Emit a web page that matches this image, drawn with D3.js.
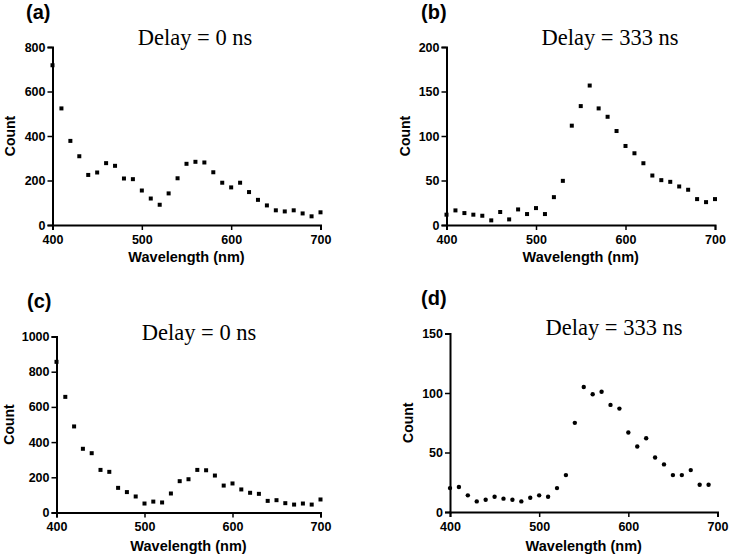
<!DOCTYPE html>
<html>
<head>
<meta charset="utf-8">
<script src="https://cdn.jsdelivr.net/npm/d3@7"></script>
<style>
body { margin: 0; background: #fff; }
svg { display: block; }
.tick text { font-family: "Liberation Sans", Arial, sans-serif; font-weight: bold; font-size: 12.5px; fill: #000; }
</style>
</head>
<body>
<svg width="730" height="557"></svg>
<script>
var wavelength = [400, 410, 420, 430, 440, 450, 460, 470, 480, 490, 500, 510, 520, 530, 540, 550, 560, 570, 580, 590, 600, 610, 620, 630, 640, 650, 660, 670, 680, 690, 700];
var countA = [718, 524, 378, 309, 225, 236, 278, 266, 209, 206, 155, 119, 91, 142, 210, 275, 284, 281, 237, 190, 169, 190, 148, 113, 88, 66, 61, 66, 52, 39, 57];
var countB = [11.6, 16.4, 13.4, 11.6, 10.4, 5.2, 14.6, 6.3, 17.5, 12.3, 19, 12.3, 31.3, 49.6, 111.6, 133.6, 156.7, 131, 121.6, 105.6, 88.8, 80.6, 69.4, 55.6, 50.4, 48.5, 43.3, 39.6, 29.1, 25.7, 29.1];
var countC = [856, 657, 489, 362, 337, 242, 231, 140, 116, 91, 51, 62, 57, 108, 178, 189, 242, 240, 210, 153, 165, 131, 112, 106, 66, 70, 53, 45, 51, 45, 74];
var countD = [20.1, 21, 14, 8.9, 10.3, 12.8, 11.2, 10.3, 8.9, 12, 14, 12.8, 20.1, 31, 74.9, 105, 98.9, 101, 90, 86.9, 66.8, 55, 62, 45.8, 40, 31, 31, 35.2, 22.9, 22.9];

var xTicks = [400, 500, 600, 700];
var yTicksA = [0, 200, 400, 600, 800];
var yTicksB = [0, 50, 100, 150, 200];
var yTicksC = [0, 200, 400, 600, 800, 1000];
var yTicksD = [0, 50, 100, 150];

var panelLabels = ["(a)", "(b)", "(c)", "(d)"];
var titles = ["Delay = 0 ns", "Delay = 333 ns", "Delay = 0 ns", "Delay = 333 ns"];

var svg = d3.select("svg");

// layout of each panel (pixel boxes)
var panels = [
  {data: countA, yTicks: yTicksA, marker: "square", left: 52.5, right: 320.5, top: 47, bottom: 225, labelX: 26, labelY: 19, titleX: 195, titleY: 45, countX: 10, wlY: 262},
  {data: countB, yTicks: yTicksB, marker: "square", left: 446.5, right: 715, top: 47, bottom: 225, labelX: 421, labelY: 19, titleX: 610, titleY: 45, countX: 405, wlY: 262},
  {data: countC, yTicks: yTicksC, marker: "square", left: 56.5, right: 320.5, top: 336.5, bottom: 512.5, labelX: 27, labelY: 308, titleX: 199, titleY: 340, countX: 9, wlY: 551},
  {data: countD, yTicks: yTicksD, marker: "circle", left: 450, right: 717.5, top: 333.5, bottom: 512, labelX: 421, labelY: 305, titleX: 614, titleY: 335, countX: 408, wlY: 551}
];

panels.forEach(function(p, i) {
  var x = d3.scaleLinear().domain([400, 700]).range([p.left, p.right]);
  var yMax = p.yTicks[p.yTicks.length - 1];
  var y = d3.scaleLinear().domain([0, yMax]).range([p.bottom, p.top]);

  var g = svg.append("g");

  var xAxis = d3.axisBottom(x).tickValues(xTicks).tickFormat(d3.format("d")).tickSizeOuter(0).tickSize(5).tickPadding(5);
  var yAxis = d3.axisLeft(y).tickValues(p.yTicks).tickFormat(d3.format("d")).tickSizeOuter(0).tickSize(5).tickPadding(2);

  var gx = g.append("g").attr("transform", "translate(0," + p.bottom + ")").call(xAxis);
  var gy = g.append("g").attr("transform", "translate(" + p.left + ",0)").call(yAxis);
  [gx, gy].forEach(function(a) {
    a.select(".domain").attr("stroke", "#000").attr("stroke-width", 2);
    a.selectAll(".tick line").attr("stroke", "#000").attr("stroke-width", 1.5);
  });

  // points
  var pts = wavelength.slice(0, p.data.length).map(function(w, k) { return [w, p.data[k]]; });
  if (p.marker === "square") {
    g.selectAll("rect.pt").data(pts).enter().append("rect")
      .attr("class", "pt")
      .attr("x", function(d) { return x(d[0]) - 2; })
      .attr("y", function(d) { return y(d[1]) - 2; })
      .attr("width", 4).attr("height", 4)
      .attr("fill", "#000");
  } else {
    g.selectAll("circle.pt").data(pts).enter().append("circle")
      .attr("class", "pt")
      .attr("cx", function(d) { return x(d[0]); })
      .attr("cy", function(d) { return y(d[1]); })
      .attr("r", 2.2)
      .attr("fill", "#000");
  }

  // texts
  g.append("text")
    .attr("x", p.labelX).attr("y", p.labelY)
    .style("font-family", "'Liberation Sans', Arial, sans-serif")
    .style("font-weight", "bold").style("font-size", "20px")
    .text(panelLabels[i]);

  g.append("text")
    .attr("x", p.titleX).attr("y", p.titleY)
    .style("text-anchor", "middle")
    .style("font-family", "'Liberation Serif', 'Times New Roman', serif")
    .style("font-size", "22.5px")
    .text(titles[i]);

  g.append("text")
    .attr("transform", "translate(" + p.countX + "," + ((p.top + p.bottom) / 2) + ") rotate(-90)")
    .attr("dy", "0.35em")
    .style("text-anchor", "middle")
    .style("font-family", "'Liberation Sans', Arial, sans-serif")
    .style("font-weight", "bold").style("font-size", "14px")
    .text("Count");

  g.append("text")
    .attr("x", (p.left + p.right) / 2).attr("y", p.wlY)
    .style("text-anchor", "middle")
    .style("font-family", "'Liberation Sans', Arial, sans-serif")
    .style("font-weight", "bold").style("font-size", "14.5px")
    .text("Wavelength (nm)");
});
</script>
</body>
</html>
